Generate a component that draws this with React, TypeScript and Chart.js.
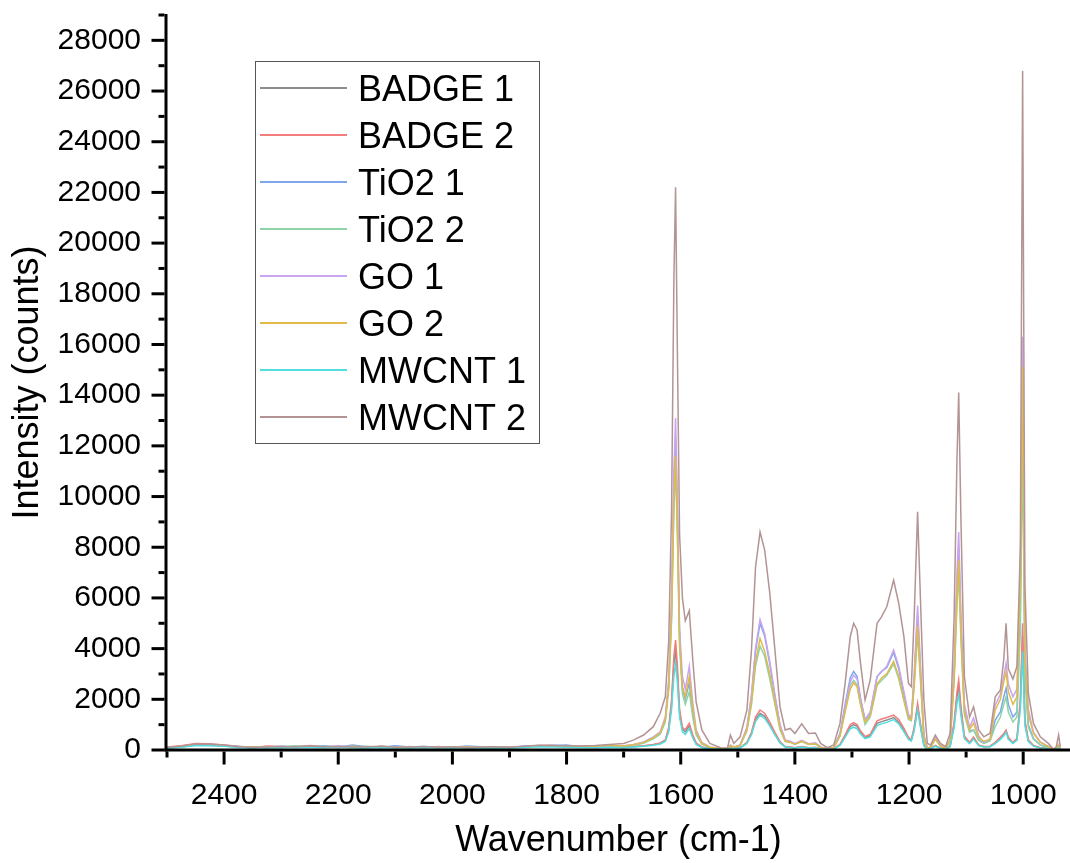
import React, { useEffect, useRef } from "react";
import { Chart, registerables } from "chart.js";

Chart.register(...registerables);

const FONT_FAMILY = "'Liberation Sans', Arial, sans-serif";

// Raman shift axis (cm-1): coarse steps on the flat baseline, dense around the bands
const WAVENUMBERS = [
  2500, 2475, 2450, 2425, 2400, 2375, 2350, 2325, 2300, 2275, 2250, 2225, 2200, 2175, 2150, 2125,
  2100, 2075, 2050, 2025, 2000, 1975, 1950, 1925, 1900, 1875, 1850, 1825, 1800, 1775, 1750, 1725,
  1700, 1683, 1665, 1648, 1636, 1627, 1621, 1616, 1612, 1609,
  1606, 1602, 1597, 1592, 1585, 1579, 1573, 1563, 1549, 1530,
  1518, 1513, 1507, 1496, 1484, 1476, 1469, 1461, 1453, 1444,
  1435, 1426, 1417, 1408, 1400, 1388, 1376, 1364, 1355, 1343,
  1332, 1321, 1312, 1303, 1297, 1291, 1285, 1277, 1268, 1256,
  1248, 1239, 1227, 1218, 1209, 1201, 1196, 1191, 1185, 1179,
  1174, 1168, 1162, 1154, 1145, 1136, 1128, 1121, 1116, 1113,
  1109, 1103, 1094, 1087, 1078, 1069, 1058, 1049, 1040, 1034,
  1030, 1026, 1018, 1011, 1005, 1001, 997, 991, 982, 970,
  956, 947, 942, 938, 935,
];

const BADGE_1 = [
  90, 150, 230, 210, 180, 120, 100, 130, 110, 150, 140, 120, 130, 110, 100, 140,
  120, 90, 110, 100, 120, 90, 80, 110, 100, 130, 170, 160, 150, 120, 110, 130,
  100, 130, 160, 210, 260, 370, 820, 1800, 3400, 3900,
  3100, 1450, 820, 720, 950, 550, 250, 110, 55, 35,
  30, 75, 55, 85, 280, 650, 1200, 1450, 1330, 1000,
  640, 300, 130, 110, 85, 130, 85, 95, 45, 30,
  45, 200, 550, 920, 1000, 930, 700, 490, 570, 1050,
  1120, 1180, 1280, 1100, 780, 460, 380, 830, 1700, 830,
  180, 35, 55, 160, 65, 35, 150, 1000, 2100, 2500,
  1550, 500, 280, 470, 180, 130, 140, 280, 460, 600,
  740, 460, 280, 420, 1800, 4500, 1100, 370, 170, 85,
  45, 20, 28, 85, 28,
];

const BADGE_2 = [
  120, 170, 260, 250, 200, 150, 90, 160, 140, 110, 180, 130, 150, 120, 90, 150,
  110, 130, 90, 140, 100, 110, 90, 80, 120, 110, 180, 190, 140, 160, 100, 140,
  110, 140, 170, 220, 280, 400, 900, 2000, 3700, 4340,
  3400, 1600, 900, 800, 1050, 600, 280, 120, 60, 40,
  30, 80, 60, 90, 300, 700, 1300, 1580, 1450, 1100,
  700, 330, 140, 120, 90, 140, 90, 100, 50, 30,
  50, 220, 600, 1000, 1080, 1000, 750, 530, 620, 1150,
  1220, 1280, 1380, 1200, 850, 500, 400, 900, 1840, 900,
  200, 40, 60, 180, 70, 40, 160, 1100, 2300, 2760,
  1700, 550, 300, 510, 200, 140, 150, 300, 500, 650,
  790, 500, 300, 450, 2000, 5000, 1200, 400, 180, 90,
  50, 20, 30, 90, 30,
];

const TIO2_1 = [
  80, 120, 190, 220, 170, 140, 110, 100, 150, 130, 120, 170, 110, 200, 130, 110,
  170, 120, 140, 90, 110, 160, 130, 100, 90, 160, 150, 180, 200, 130, 120, 150,
  150, 200, 290, 470, 660, 1200, 2600, 5600, 10300, 12300,
  9400, 4500, 2400, 2000, 2650, 1500, 650, 250, 100, 50,
  40, 180, 100, 180, 850, 2100, 3900, 5000, 4500, 3400,
  2100, 950, 380, 330, 240, 360, 240, 260, 110, 50,
  100, 650, 1800, 2850, 3100, 2900, 2050, 1180, 1450, 2900,
  3100, 3250, 3850, 3200, 2200, 1300, 1250, 2800, 5300, 2700,
  550, 70, 120, 450, 160, 70, 380, 3000, 6500, 8000,
  4900, 1600, 750, 790, 400, 270, 380, 1180, 1500, 2100,
  2440, 1800, 1300, 1500, 5500, 13900, 3300, 1000, 450, 200,
  100, 20, 50, 180, 50,
];

const TIO2_2 = [
  100, 140, 210, 190, 160, 120, 130, 90, 120, 160, 110, 140, 120, 100, 150, 90,
  130, 100, 120, 110, 90, 120, 100, 130, 110, 120, 160, 150, 170, 140, 130, 160,
  140, 190, 270, 440, 620, 1100, 2400, 5100, 9400, 11200,
  8600, 4100, 2200, 1800, 2300, 1300, 600, 230, 100, 50,
  40, 160, 100, 170, 750, 1800, 3300, 4100, 3700, 2800,
  1800, 800, 330, 300, 220, 330, 220, 240, 100, 50,
  90, 550, 1550, 2550, 2750, 2550, 1800, 1000, 1300, 2550,
  2750, 2950, 3400, 2800, 1950, 1200, 1150, 2500, 4600, 2400,
  480, 60, 110, 420, 150, 60, 350, 2700, 5700, 7000,
  4300, 1400, 700, 790, 380, 260, 360, 920, 1300, 1800,
  2100, 1500, 1100, 1300, 4700, 12000, 2800, 900, 420, 190,
  90, 20, 45, 160, 45,
];

const GO_1 = [
  110, 130, 200, 180, 190, 130, 90, 140, 100, 120, 150, 110, 160, 130, 110, 120,
  100, 140, 100, 120, 130, 100, 110, 90, 120, 140, 150, 170, 160, 150, 140, 170,
  170, 220, 320, 520, 720, 1300, 2800, 6000, 11000, 13100,
  10000, 4800, 2900, 2400, 3300, 1900, 800, 300, 120, 60,
  50, 200, 120, 200, 900, 2200, 4000, 5150, 4600, 3500,
  2200, 1000, 400, 350, 250, 380, 250, 280, 120, 50,
  100, 600, 1700, 2700, 2950, 2800, 2000, 1200, 1500, 2900,
  3100, 3300, 3950, 3300, 2300, 1400, 1300, 3000, 5700, 2900,
  600, 80, 130, 500, 180, 80, 400, 3200, 7000, 8600,
  5300, 1800, 900, 1260, 550, 300, 450, 1780, 2200, 2900,
  3420, 2600, 2100, 2400, 7000, 16300, 4000, 1600, 700, 320,
  140, 30, 60, 220, 60,
];

const GO_2 = [
  90, 140, 220, 200, 170, 110, 120, 110, 130, 100, 140, 120, 100, 150, 120, 130,
  90, 110, 130, 100, 110, 130, 90, 120, 100, 110, 170, 160, 150, 130, 150, 180,
  160, 210, 300, 480, 680, 1200, 2500, 5300, 9800, 11600,
  9000, 4300, 2500, 2100, 2900, 1700, 700, 270, 110, 60,
  50, 170, 110, 180, 800, 1900, 3500, 4400, 3900, 3000,
  1900, 850, 350, 310, 230, 340, 230, 250, 100, 50,
  90, 550, 1500, 2400, 2650, 2500, 1800, 1100, 1350, 2600,
  2850, 3000, 3500, 2900, 2000, 1250, 1200, 2600, 4900, 2500,
  500, 70, 120, 430, 150, 70, 360, 2800, 6100, 7500,
  4600, 1500, 800, 1060, 480, 345, 420, 1580, 2000, 2700,
  3080, 2300, 1800, 2100, 6500, 15100, 3700, 1400, 650, 300,
  130, 30, 55, 200, 55,
];

const MWCNT_1 = [
  70, 110, 180, 170, 150, 100, 80, 100, 90, 110, 100, 90, 110, 90, 80, 100,
  90, 80, 100, 90, 80, 100, 70, 90, 80, 100, 130, 120, 110, 100, 90, 110,
  90, 120, 150, 190, 240, 340, 720, 1600, 2900, 3420,
  2700, 1300, 720, 620, 850, 480, 220, 100, 50, 30,
  25, 70, 50, 80, 260, 600, 1120, 1380, 1250, 950,
  600, 280, 120, 100, 80, 120, 80, 90, 40, 25,
  40, 180, 500, 840, 900, 840, 630, 450, 520, 960,
  1030, 1090, 1200, 1030, 720, 420, 350, 760, 1580, 760,
  170, 30, 50, 150, 60, 30, 130, 880, 1850, 2170,
  1350, 450, 250, 430, 170, 120, 130, 250, 420, 560,
  700, 420, 260, 380, 1600, 3900, 950, 330, 150, 75,
  40, 15, 25, 80, 25,
];

const MWCNT_2 = [
  100, 160, 240, 230, 200, 130, 110, 120, 140, 130, 160, 130, 140, 120, 130, 150,
  110, 120, 140, 110, 130, 100, 120, 130, 110, 150, 190, 180, 170, 160, 180, 220,
  260, 390, 590, 920, 1450, 2100, 4300, 9500, 18500, 22200,
  16000, 8500, 6000, 5100, 5500, 3600, 1900, 790, 260, 90,
  80, 590, 260, 520, 1580, 3950, 7200, 8600, 7900, 6200,
  3950, 1700, 790, 850, 650, 1030, 650, 670, 260, 90,
  200, 1050, 2630, 4470, 5000, 4730, 3420, 1970, 2760, 5000,
  5260, 5650, 6700, 5780, 4470, 2630, 2500, 5260, 9400, 5260,
  1970, 260, 200, 590, 260, 130, 660, 5260, 11500, 14100,
  9000, 2900, 1300, 1700, 790, 520, 660, 2100, 2370, 3600,
  5000, 3200, 2800, 3300, 8000, 26800, 6500, 2240, 1050, 520,
  260, 30, 130, 590, 130,
];

const SERIES_LABELS = ["BADGE 1", "BADGE 2", "TiO2 1", "TiO2 2", "GO 1", "GO 2", "MWCNT 1", "MWCNT 2"];
const SERIES_VALUES = [BADGE_1, BADGE_2, TIO2_1, TIO2_2, GO_1, GO_2, MWCNT_1, MWCNT_2];
const SERIES_COLORS = ["#8c8c8c", "#f27d7d", "#7da7ea", "#8fd4a9", "#c9a5f0", "#e0bb4a", "#52dede", "#b39494"];

const X_MAJOR_TICKS = [2400, 2200, 2000, 1800, 1600, 1400, 1200, 1000];
const X_MINOR_TICKS = [2500, 2300, 2100, 1900, 1700, 1500, 1300, 1100];
const Y_MAJOR_TICKS = [0, 2000, 4000, 6000, 8000, 10000, 12000, 14000, 16000, 18000, 20000, 22000, 24000, 26000, 28000];
const Y_MINOR_TICKS = [1000, 3000, 5000, 7000, 9000, 11000, 13000, 15000, 17000, 19000, 21000, 23000, 25000, 27000, 29000];

// Axis frame with major/minor tick marks, plus the boxed legend inside the plot
const frameAndLegend = {
  id: "frameAndLegend",
  afterDatasetsDraw(chart: any) {
    const { ctx, chartArea, scales } = chart;
    const { left, right, top, bottom } = chartArea;
    const xs = scales.x;
    const ys = scales.y;
    const axisX = left - 1;
    const axisY = bottom;
    ctx.save();
    ctx.strokeStyle = "#000";
    ctx.lineCap = "butt";
    ctx.lineWidth = 3;
    ctx.beginPath();
    ctx.moveTo(axisX, top - 1);
    ctx.lineTo(axisX, axisY + 1.5);
    ctx.stroke();
    ctx.beginPath();
    ctx.moveTo(axisX - 1.5, axisY);
    ctx.lineTo(right, axisY);
    ctx.stroke();

    const yTick = (v: number, len: number) => {
      const p = ys.getPixelForValue(v);
      ctx.beginPath();
      ctx.moveTo(axisX - 1.5, p);
      ctx.lineTo(axisX - 1.5 - len, p);
      ctx.stroke();
    };
    const xTick = (v: number, len: number) => {
      const p = xs.getPixelForValue(v);
      ctx.beginPath();
      ctx.moveTo(p, axisY + 1.5);
      ctx.lineTo(p, axisY + 1.5 + len);
      ctx.stroke();
    };
    Y_MAJOR_TICKS.forEach((v) => yTick(v, 13));
    Y_MINOR_TICKS.forEach((v) => yTick(v, 6));
    X_MAJOR_TICKS.forEach((v) => xTick(v, 13));
    X_MINOR_TICKS.forEach((v) => xTick(v, 6));

    // legend
    const boxX = 255.5;
    const boxY = 61.5;
    const rowGap = 47;
    const firstRow = 88;
    const boxW = 284;
    const boxH = 382;
    ctx.fillStyle = "#fff";
    ctx.fillRect(boxX, boxY, boxW, boxH);
    ctx.lineWidth = 1;
    ctx.strokeStyle = "#555";
    ctx.strokeRect(boxX, boxY, boxW, boxH);
    ctx.font = `36px ${FONT_FAMILY}`;
    ctx.textAlign = "left";
    ctx.textBaseline = "alphabetic";
    chart.data.datasets.forEach((ds: any, i: number) => {
      const yRow = firstRow + i * rowGap;
      ctx.strokeStyle = ds.borderColor;
      ctx.lineWidth = 2;
      ctx.beginPath();
      ctx.moveTo(260, yRow);
      ctx.lineTo(347, yRow);
      ctx.stroke();
      ctx.fillStyle = "#000";
      ctx.fillText(ds.label, 358, yRow + 13);
    });
    ctx.restore();
  },
};

export default function App() {
  const canvasRef = useRef<HTMLCanvasElement | null>(null);

  useEffect(() => {
    const canvas = canvasRef.current;
    if (!canvas) return;
    const datasets = SERIES_LABELS.map((label, i) => ({
      label,
      data: WAVENUMBERS.map((w, k) => ({ x: w, y: SERIES_VALUES[i][k] })),
      borderColor: SERIES_COLORS[i],
      backgroundColor: SERIES_COLORS[i],
      borderWidth: 1.5,
      pointRadius: 0,
      tension: 0,
      fill: false,
      order: SERIES_LABELS.length - i,
    }));

    const chart = new Chart(canvas, {
      type: "line",
      data: { datasets },
      options: {
        animation: false,
        responsive: false,
        devicePixelRatio: 1,
        layout: { padding: { top: 15, right: 0, left: 0, bottom: 0 } },
        plugins: {
          legend: { display: false },
          tooltip: { enabled: false },
        },
        scales: {
          x: {
            type: "linear",
            reverse: true,
            min: 918,
            max: 2500,
            grid: { display: false, drawTicks: false },
            border: { display: false },
            afterBuildTicks: (scale: any) => {
              scale.ticks = X_MAJOR_TICKS.map((v) => ({ value: v }));
            },
            afterFit: (scale: any) => {
              scale.height = 113;
              scale.paddingLeft = 0;
              scale.paddingRight = 0;
            },
            ticks: {
              autoSkip: false,
              maxRotation: 0,
              padding: 28,
              color: "#000",
              font: { family: FONT_FAMILY, size: 30 },
              callback: (v: any) => String(v),
            },
            title: {
              display: true,
              text: "Wavenumber (cm-1)",
              color: "#000",
              font: { family: FONT_FAMILY, size: 36 },
              padding: { top: -3, bottom: 0 },
            },
          },
          y: {
            type: "linear",
            min: 0,
            max: 29000,
            grid: { display: false, drawTicks: false },
            border: { display: false },
            afterBuildTicks: (scale: any) => {
              scale.ticks = Y_MAJOR_TICKS.map((v) => ({ value: v }));
            },
            afterFit: (scale: any) => {
              scale.width = 167;
              scale.paddingTop = 0;
              scale.paddingBottom = 0;
            },
            ticks: {
              autoSkip: false,
              padding: 26,
              color: "#000",
              font: { family: FONT_FAMILY, size: 30 },
              callback: (v: any) => String(v),
            },
            title: {
              display: true,
              text: "Intensity (counts)",
              color: "#000",
              font: { family: FONT_FAMILY, size: 36 },
              padding: { top: 6, bottom: 0 },
            },
          },
        },
      },
      plugins: [frameAndLegend],
    });

    return () => {
      chart.destroy();
    };
  }, []);

  return (
    <canvas
      ref={canvasRef}
      width={1070}
      height={863}
      style={{ position: "absolute", left: 0, top: 0, width: 1070, height: 863, background: "#fff" }}
    />
  );
}
